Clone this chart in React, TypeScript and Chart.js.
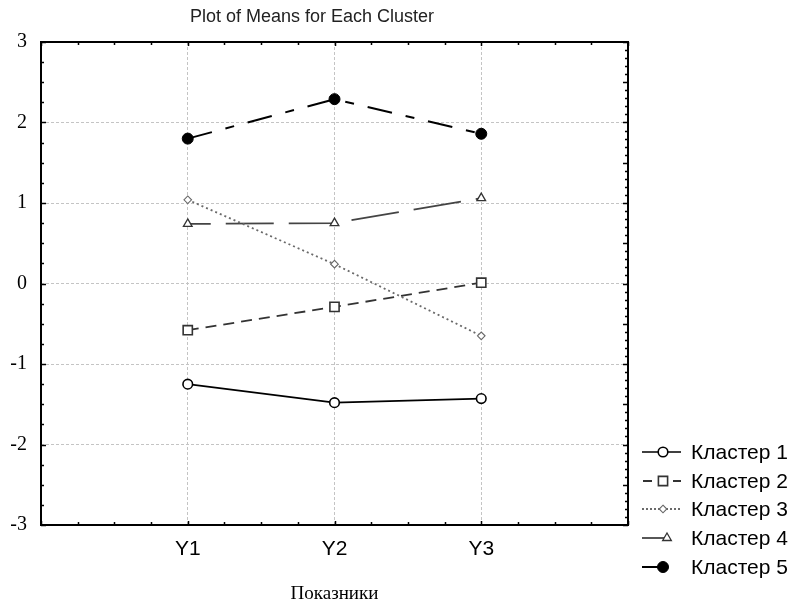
import { useEffect, useRef } from 'react';
import { Chart, registerables } from 'chart.js';

Chart.register(...registerables);

const chartTitle = 'Plot of Means for Each Cluster';
const xAxisTitle = 'Показники';
const categories = ['Y1', 'Y2', 'Y3'];
const seriesNames = ['Кластер 1', 'Кластер 2', 'Кластер 3', 'Кластер 4', 'Кластер 5'];
const cluster1 = [-1.25, -1.48, -1.43];
const cluster2 = [-0.58, -0.29, 0.01];
const cluster3 = [1.04, 0.24, -0.65];
const cluster4 = [0.74, 0.75, 1.06];
const cluster5 = [1.8, 2.29, 1.86];
const yTickLabels = [-3, -2, -1, 0, 1, 2, 3];

const SANS = '"Liberation Sans", Arial, sans-serif';
const SERIF = '"Liberation Serif", "Times New Roman", serif';

type Style = {
  color: string;
  width: number;
  dash: number[];
  dashOffset: number;
  point: string;
  radius: number;
  fill: string;
  pointBorder: string;
  pointBorderWidth: number;
};

const styles: Style[] = [
  { color: '#000000', width: 1.6, dash: [], dashOffset: 0, point: 'circle', radius: 4.8, fill: '#ffffff', pointBorder: '#000000', pointBorderWidth: 1.6 },
  { color: '#333333', width: 1.8, dash: [11, 7], dashOffset: 0, point: 'rect', radius: 6.5, fill: '#ffffff', pointBorder: '#333333', pointBorderWidth: 1.6 },
  { color: '#6a6a6a', width: 1.8, dash: [2, 3], dashOffset: 0, point: 'rectRot', radius: 3.8, fill: '#ffffff', pointBorder: '#666666', pointBorderWidth: 1.1 },
  { color: '#444444', width: 1.8, dash: [48, 15], dashOffset: 25, point: 'triangle', radius: 5, fill: '#ffffff', pointBorder: '#333333', pointBorderWidth: 1.3 },
  { color: '#000000', width: 2, dash: [25, 14, 9, 14], dashOffset: 0, point: 'circle', radius: 5.5, fill: '#000000', pointBorder: '#000000', pointBorderWidth: 1 },
];

const seriesValues = [cluster1, cluster2, cluster3, cluster4, cluster5];

function drawMarker(ctx: CanvasRenderingContext2D, s: Style, x: number, y: number) {
  ctx.save();
  ctx.setLineDash([]);
  ctx.fillStyle = s.fill;
  ctx.strokeStyle = s.pointBorder;
  ctx.lineWidth = s.pointBorderWidth;
  ctx.beginPath();
  const r = s.radius;
  if (s.point === 'circle') {
    ctx.arc(x, y, r, 0, Math.PI * 2);
  } else if (s.point === 'rect') {
    const h = r * Math.SQRT1_2;
    ctx.rect(x - h, y - h, 2 * h, 2 * h);
  } else if (s.point === 'rectRot') {
    ctx.moveTo(x, y - r);
    ctx.lineTo(x + r, y);
    ctx.lineTo(x, y + r);
    ctx.lineTo(x - r, y);
    ctx.closePath();
  } else if (s.point === 'triangle') {
    const a = Math.PI / 2;
    ctx.moveTo(x + Math.cos(-a) * r, y + Math.sin(-a) * r);
    ctx.lineTo(x + Math.cos(-a + (2 * Math.PI) / 3) * r, y + Math.sin(-a + (2 * Math.PI) / 3) * r);
    ctx.lineTo(x + Math.cos(-a + (4 * Math.PI) / 3) * r, y + Math.sin(-a + (4 * Math.PI) / 3) * r);
    ctx.closePath();
  }
  ctx.fill();
  ctx.stroke();
  ctx.restore();
}

const framePlugin = {
  id: 'frameTicks',
  afterDatasetsDraw(chart: any) {
    const { ctx, chartArea: a, scales } = chart;
    const x = scales.x;
    const y = scales.y;
    ctx.save();
    ctx.strokeStyle = '#000';
    ctx.lineWidth = 2;
    ctx.setLineDash([]);
    ctx.strokeRect(a.left, a.top, a.right - a.left, a.bottom - a.top);
    ctx.lineWidth = 1.5;
    ctx.beginPath();
    for (let i = 0; i <= 16; i++) {
      const v = -1 + i * 0.25;
      const px = Math.round(x.getPixelForValue(v)) + 0.5;
      const len = i % 4 === 0 ? 4 : 3;
      ctx.moveTo(px, a.bottom);
      ctx.lineTo(px, a.bottom - len);
      ctx.moveTo(px, a.top);
      ctx.lineTo(px, a.top + len);
    }
    for (let i = 0; i <= 24; i++) {
      const v = -3 + i * 0.25;
      const py = Math.round(y.getPixelForValue(v)) + 0.5;
      const len = i % 4 === 0 ? 5 : 3;
      ctx.moveTo(a.left, py);
      ctx.lineTo(a.left + len, py);
    }
    for (let i = 0; i <= 60; i++) {
      const v = -3 + i * 0.1;
      const py = Math.round(y.getPixelForValue(v)) + 0.5;
      const len = i % 5 === 0 ? 5 : 3;
      ctx.moveTo(a.right, py);
      ctx.lineTo(a.right - len, py);
    }
    ctx.stroke();
    ctx.restore();
  },
  afterDraw(chart: any) {
    const { ctx } = chart;
    ctx.save();
    // title
    ctx.fillStyle = '#222';
    ctx.font = `18px ${SANS}`;
    ctx.textAlign = 'left';
    ctx.textBaseline = 'alphabetic';
    ctx.fillText(chartTitle, 190, 22);
    // legend
    const rows = [452, 481, 509, 538, 567];
    ctx.font = `21px ${SANS}`;
    seriesNames.forEach((name, i) => {
      const s = styles[i];
      const cy = rows[i];
      ctx.save();
      ctx.strokeStyle = s.color;
      ctx.lineWidth = s.width;
      ctx.beginPath();
      if (i === 1) {
        ctx.moveTo(643, cy);
        ctx.lineTo(652, cy);
        ctx.moveTo(673, cy);
        ctx.lineTo(681, cy);
      } else if (i === 2) {
        ctx.setLineDash([2, 2]);
        ctx.moveTo(642, cy);
        ctx.lineTo(681, cy);
      } else if (i === 3) {
        ctx.moveTo(642, cy);
        ctx.lineTo(664, cy);
      } else if (i === 4) {
        ctx.moveTo(642, cy);
        ctx.lineTo(660, cy);
      } else {
        ctx.moveTo(642, cy);
        ctx.lineTo(681, cy);
      }
      ctx.stroke();
      ctx.restore();
      drawMarker(ctx, s, i === 3 ? 667 : 663, cy);
      ctx.fillStyle = '#000';
      ctx.textBaseline = 'middle';
      ctx.fillText(name, 691, cy + 1);
    });
    ctx.restore();
  },
};

export default function App() {
  const canvasRef = useRef<HTMLCanvasElement | null>(null);

  useEffect(() => {
    document.body.style.margin = '0';
    const canvas = canvasRef.current;
    if (!canvas) return;

    const datasets = seriesNames.map((name, i) => {
      const s = styles[i];
      return {
        label: name,
        data: categories.map((_, j) => ({ x: j, y: seriesValues[i][j] })),
        borderColor: s.color,
        borderWidth: s.width,
        borderDash: s.dash,
        borderDashOffset: s.dashOffset,
        backgroundColor: s.fill,
        pointStyle: s.point,
        pointRadius: s.radius,
        pointHoverRadius: s.radius,
        pointBackgroundColor: s.fill,
        pointBorderColor: s.pointBorder,
        pointBorderWidth: s.pointBorderWidth,
        fill: false,
        tension: 0,
      };
    });

    const gridColorX = (c: any) => {
      const v = c.tick ? c.tick.value : null;
      return v !== null && Number.isInteger(v) && v >= 0 && v <= categories.length - 1 ? '#c4c4c4' : 'rgba(0,0,0,0)';
    };
    const gridColorY = (c: any) => {
      const v = c.tick ? c.tick.value : null;
      return v !== null && Number.isInteger(v) && v > -3 && v < 3 ? '#c4c4c4' : 'rgba(0,0,0,0)';
    };

    const chart = new Chart(canvas, {
      type: 'line',
      data: { datasets: datasets as any },
      options: {
        responsive: false,
        animation: false,
        devicePixelRatio: 1,
        layout: { padding: { left: 0, top: 42, right: 167, bottom: 0 } },
        plugins: {
          legend: { display: false },
          tooltip: { enabled: false },
          title: { display: false },
        },
        scales: {
          x: {
            type: 'linear',
            min: -1,
            max: categories.length,
            afterBuildTicks: (scale: any) => {
              const t = [];
              for (let i = 0; i <= 16; i++) t.push({ value: -1 + i * 0.25 });
              scale.ticks = t;
            },
            afterFit: (scale: any) => {
              scale.height = 83;
            },
            ticks: {
              autoSkip: false,
              maxRotation: 0,
              padding: 12,
              color: '#000',
              font: { family: SANS, size: 21 },
              callback: (v: any) => {
                const n = Number(v);
                return Number.isInteger(n) && n >= 0 && n < categories.length ? categories[n] : '';
              },
            },
            grid: { color: gridColorX, drawTicks: false, lineWidth: 1 },
            border: { display: false, dash: [3, 2] },
            title: {
              display: true,
              text: xAxisTitle,
              color: '#000',
              font: { family: SERIF, size: 19 },
              padding: { top: 0, bottom: 3 },
            },
          },
          y: {
            type: 'linear',
            min: -3,
            max: 3,
            afterBuildTicks: (scale: any) => {
              const t = [];
              for (let i = 0; i <= 24; i++) t.push({ value: -3 + i * 0.25 });
              scale.ticks = t;
            },
            afterFit: (scale: any) => {
              scale.width = 41;
            },
            ticks: {
              autoSkip: false,
              padding: 14,
              color: '#000',
              font: { family: SERIF, size: 20 },
              callback: (v: any) => {
                const n = Number(v);
                return yTickLabels.includes(n) ? String(n) : '';
              },
            },
            grid: { color: gridColorY, drawTicks: false, lineWidth: 1 },
            border: { display: false, dash: [3, 2] },
          },
        },
      },
      plugins: [framePlugin],
    });

    return () => chart.destroy();
  }, []);

  return (
    <div style={{ width: 795, height: 608, background: '#fff' }}>
      <canvas ref={canvasRef} width={795} height={608} />
    </div>
  );
}
